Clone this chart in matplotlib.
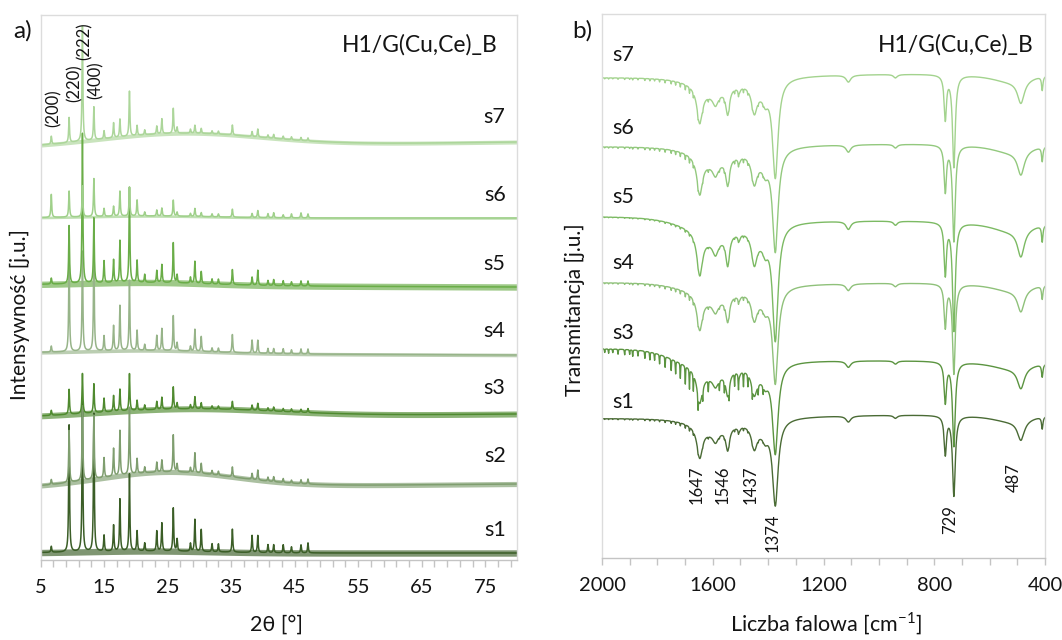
import numpy as np
import matplotlib
matplotlib.use('Agg')
import matplotlib.pyplot as plt
from matplotlib.ticker import FixedLocator

plt.rcParams['font.family'] = ['Lato', 'DejaVu Sans']
plt.rcParams['mathtext.fontset'] = 'custom'
plt.rcParams['mathtext.rm'] = 'Lato'

# ---------------- data: XRD (panel a) ----------------
samples = ['s1', 's2', 's3', 's4', 's5', 's6', 's7']
xrd_colors = ['#3b5e27', '#7f9e6f', '#4f8a2f', '#97b489', '#6aad48', '#9fd08a', '#acd69a']

xrd_peak_pos = [6.7, 9.5, 11.6, 13.4, 15.0, 16.5, 17.5, 19.0, 20.2, 21.4, 23.3, 24.1,
                25.9, 26.5, 28.6, 29.3, 30.3, 32.0, 33.0, 35.2, 38.3, 39.2, 40.8, 41.7,
                43.2, 44.5, 46.0, 47.1]
xrd_h_s1 = [6, 127, 150, 138, 16, 26, 52, 77, 20, 8, 20, 28, 43, 12, 8, 32, 22, 8, 8, 23, 17, 17, 8, 8, 8, 6, 8, 10]
xrd_h_s2 = [5, 52, 75, 64, 20, 28, 45, 67, 15, 6, 10, 12, 37, 8, 5, 20, 10, 4, 4, 10, 6, 10, 4, 5, 4, 3, 4, 5]
xrd_h_s3 = [5, 25, 40, 29, 14, 16, 22, 37, 10, 5, 8, 12, 22, 6, 4, 12, 6, 3, 3, 8, 5, 7, 3, 4, 3, 3, 3, 4]
xrd_h_s4 = [6, 95, 100, 100, 15, 25, 45, 70, 20, 6, 15, 22, 35, 8, 5, 22, 15, 4, 4, 18, 13, 13, 5, 5, 5, 4, 5, 5]
xrd_h_s5 = [6, 58, 150, 65, 22, 23, 42, 95, 22, 8, 12, 18, 40, 8, 6, 22, 12, 5, 5, 15, 8, 15, 5, 6, 5, 4, 5, 5]
xrd_h_s6 = [23, 26, 31, 38, 8, 10, 25, 29, 16, 4, 6, 8, 16, 4, 3, 8, 4, 3, 3, 8, 4, 7, 4, 5, 3, 4, 5, 4]
xrd_h_s7 = [8, 25, 115, 33, 8, 15, 18, 45, 10, 5, 8, 15, 25, 6, 4, 8, 5, 3, 3, 10, 5, 8, 3, 4, 3, 3, 3, 3]
xrd_heights = [xrd_h_s1, xrd_h_s2, xrd_h_s3, xrd_h_s4, xrd_h_s5, xrd_h_s6, xrd_h_s7]

# baseline level at 5 deg, at 80 deg, amorphous hump (amplitude, centre, width), noise half-band
xrd_level_left = [7, 72, 142, 207, 275, 342, 412]
xrd_level_right = [7, 76, 146, 205, 273, 342, 418]
xrd_hump_amp = [2, 15, 8, 3, 3, 2, 13]
xrd_hump_center = [22, 25, 28, 22, 22, 22, 27]
xrd_hump_width = [14, 15, 20, 14, 14, 14, 18]
xrd_noise = [3.2, 2.6, 3.0, 1.8, 3.2, 1.3, 2.0]

hkl_labels = ['(200)', '(220)', '(222)', '(400)']

# ---------------- data: FTIR (panel b) ----------------
ir_samples = ['s1', 's3', 's4', 's5', 's6', 's7']
ir_colors = ['#4a6b35', '#5b9440', '#8fc17a', '#7cba63', '#93c97e', '#a3d38e']
ir_offset = [418, 348, 282, 216, 146, 77]
ir_scale = [1.0, 1.05, 1.12, 1.35, 1.2, 1.15]
ir_tilt = [-4, 0, -3, 0, -3, -4]
ir_step = [0, 12, 3, 4, 0, 0]
ir_vapor = [0.7, 3.6, 0.9, 0.5, 1.0, 1.0]

ir_peak_center = [1647, 1590, 1546, 1505, 1450, 1410, 1374, 1110, 940, 760, 729, 487, 410]
ir_peak_depth = [30, 10, 22, 5, 22, 8, 83, 6, 3, 38, 80, 20, 12]
ir_peak_width = [12, 12, 8, 6, 12, 10, 12, 10, 8, 5, 6, 15, 3]
ir_band_center = [1600, 1420, 520]
ir_band_depth = [14, 10, 8]
ir_band_width = [80, 40, 100]
vapor_pos = [1990, 1976, 1961, 1942, 1918, 1900, 1889, 1870, 1845, 1827, 1810, 1792,
             1772, 1750, 1734, 1717, 1699, 1684, 1670, 1653, 1636, 1616, 1576, 1558,
             1541, 1521, 1507, 1489, 1473, 1457, 1436, 1418]
vapor_depth = [1.0, 1.2, 1.0, 1.4, 1.5, 1.3, 1.8, 1.6, 2.0, 2.2, 2.0, 2.6, 3.0, 3.2,
               3.6, 4.2, 5.0, 5.5, 4.5, 4.0, 3.0, 3.0, 2.5, 3.0, 3.2, 3.5, 3.8, 4.0,
               3.2, 2.8, 2.4, 2.0]
ir_band_labels = ['1647', '1546', '1437', '1374', '729', '487']

title = 'H1/G(Cu,Ce)_B'


def lorentz(x, c, h, w):
    return h / (1.0 + ((x - c) / w) ** 2)


W, H = 1062, 640
fig = plt.figure(figsize=(W / 100, H / 100), dpi=100)
axL = fig.add_axes([40.5 / W, 1 - 560 / H, (517 - 40.5) / W, (560 - 15) / H])
axR = fig.add_axes([602 / W, 1 - 558 / H, (1045 - 602) / W, (558 - 14) / H])

txt = '#141414'
for ax in (axL, axR):
    for s in ax.spines.values():
        s.set_color('#dcdcdc')
        s.set_linewidth(1.0)
    ax.spines['bottom'].set_color('#c4c4c4')
    ax.set_yticks([])
    ax.tick_params(axis='x', direction='out', length=5, width=1, color='#c4c4c4',
                   labelsize=14.5, labelcolor=txt, pad=9)

# ---- panel a ----
tt = np.arange(5, 80.0001, 0.01)
for i, name in enumerate(samples):
    base = (xrd_level_left[i] + (xrd_level_right[i] - xrd_level_left[i]) * (tt - 5) / 75
            + xrd_hump_amp[i] * np.exp(-((tt - xrd_hump_center[i]) / xrd_hump_width[i]) ** 2))
    y = base.copy()
    for p, h in zip(xrd_peak_pos, xrd_heights[i]):
        y += lorentz(tt, p, h, 0.08)
    axL.fill_between(tt, base - xrd_noise[i], base + xrd_noise[i], color=xrd_colors[i],
                     alpha=0.65, lw=0)
    axL.plot(tt, y, color=xrd_colors[i], lw=1.1)

axL.set_xlim(5, 80)
axL.set_ylim(0, 545)
ticksL = list(range(5, 80, 2))
axL.xaxis.set_major_locator(FixedLocator(ticksL))
axL.set_xticklabels([str(t) if (t - 5) % 10 == 0 else '' for t in ticksL])

lab_y_L = [530, 456, 388, 331, 264, 195, 117]
for i, name in enumerate(samples):
    axL.text(78.2, 560 - lab_y_L[i], name, ha='right', va='center', fontsize=15.5, color=txt)

hkl_x = [7.0, 10.3, 11.9, 13.75]
hkl_y = [452, 477, 519, 480]
for lab, xx, yy in zip(hkl_labels, hkl_x, hkl_y):
    axL.text(xx, yy, lab, rotation=90, ha='center', va='center', fontsize=12, color=txt)

axL.text(76.9, 560 - 45, title, ha='right', va='center', fontsize=16.5, color=txt)

# ---- panel b ----
wn = np.arange(400, 2000.001, 0.5)
for i, name in enumerate(ir_samples):
    depth = np.zeros_like(wn)
    for c, d, w in zip(ir_band_center, ir_band_depth, ir_band_width):
        depth += lorentz(wn, c, d, w)
    for c, d, w in zip(ir_peak_center, ir_peak_depth, ir_peak_width):
        depth += lorentz(wn, c, d, w)
    depth *= ir_scale[i]
    for c, d in zip(vapor_pos, vapor_depth):
        depth += lorentz(wn, c, d * ir_vapor[i], 1.0)
    depth += ir_tilt[i] * (2000 - wn) / 1200
    depth += ir_step[i] / (1 + np.exp((wn - 1760) / 40))
    ypx = ir_offset[i] + depth
    axR.plot(wn, 558 - ypx, color=ir_colors[i], lw=1.0)

axR.set_xlim(2000, 400)
axR.set_ylim(0, 544)
ticksR = list(range(2000, 399, -100))
axR.xaxis.set_major_locator(FixedLocator(ticksR))
axR.set_xticklabels([str(t) if (2000 - t) % 400 == 0 else '' for t in ticksR])

lab_y_R = [402, 333, 263, 197, 128, 55]
for i, name in enumerate(ir_samples):
    axR.text(1964, 558 - lab_y_R[i], name, ha='left', va='center', fontsize=15.5, color=txt)

band_x = [1660, 1566, 1462, 1383, 742, 513]
band_y = [73, 73, 73, 25, 38, 80]
for lab, xx, yy in zip(ir_band_labels, band_x, band_y):
    axR.text(xx, yy, lab, rotation=90, ha='center', va='center', fontsize=12, color=txt)

axR.text(441, 558 - 45, title, ha='right', va='center', fontsize=16.5, color=txt)

# ---- figure texts ----
fig.text(23 / W, 1 - 31 / H, 'a)', ha='center', va='center', fontsize=17.5, color=txt)
fig.text(582 / W, 1 - 31 / H, 'b)', ha='center', va='center', fontsize=17.5, color=txt)
fig.text(276 / W, 1 - 625 / H, '2θ [°]', ha='center', va='center', fontsize=15.5, color=txt)
fig.text(826 / W, 1 - 624 / H, r'Liczba falowa [cm$^{\mathregular{-1}}$]', ha='center',
         va='center', fontsize=15.5, color=txt)
fig.text(20 / W, 1 - 315 / H, 'Intensywność [j.u.]', rotation=90, ha='center', va='center',
         fontsize=15, color=txt)
fig.text(575 / W, 1 - 310 / H, 'Transmitancja [j.u.]', rotation=90, ha='center', va='center',
         fontsize=15, color=txt)

fig.savefig('out.png', dpi=100)
